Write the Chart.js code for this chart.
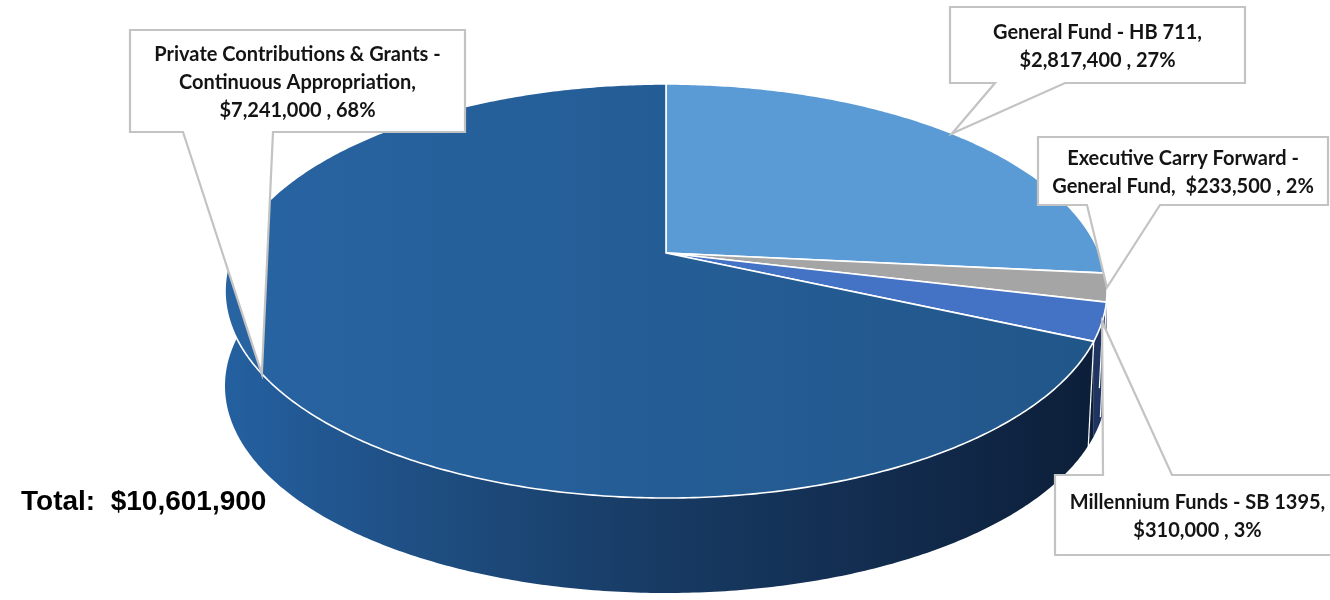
<!DOCTYPE html>
<html lang="en">
<head>
<meta charset="UTF-8">
<title>Funding Sources</title>
<script src="https://cdn.jsdelivr.net/npm/chart.js"></script>
<style>
  html, body { margin: 0; padding: 0; background: #fff; }
  #wrap { width: 1330px; height: 600px; }
</style>
</head>
<body>
<div id="wrap"><canvas id="fundChart" width="1330" height="600"></canvas></div>
<script>
// data, clockwise from 12 o'clock
const categories = [
  'General Fund - HB 711',
  'Executive Carry Forward - General Fund',
  'Millennium Funds - SB 1395',
  'Private Contributions & Grants - Continuous Appropriation'
];
const amounts = [2817400, 233500, 310000, 7241000];
// how each category name is broken over the callout lines
const nameLines = [
  ['General Fund - HB 711,'],
  ['Executive Carry Forward -', 'General Fund, '],
  ['Millennium Funds - SB 1395,'],
  ['Private Contributions & Grants -', 'Continuous Appropriation,']
];
const valueOnOwnLine = [true, false, true, true];
const totalCaption = 'Total:  ';

// styling
const topColors = ['#5B9BD5', '#A5A5A5', '#4472C4', null];
const sideColors = ['#3A6C9C', '#767676', '#1F3461', null];
const pie3d = { cx: 666, cy: 291, rx: 441, ry: 207, depth: 95, tilt: -0.1836 };
const callouts = [
  { box: [950, 7, 1245, 83], side: 'bottom', base: [995, 1065] },
  { box: [1038, 137, 1328, 205], side: 'bottom', base: [1087, 1160] },
  { box: [1055, 475, 1340, 555], side: 'top', base: [1103, 1172] },
  { box: [130, 30, 465, 132], side: 'bottom', base: [183, 273] }
];

const total = amounts.reduce((a, b) => a + b, 0);
const money = v => '$' + v.toLocaleString('en-US');

// perspective tilt of the disc (projective map keeping the rim on the ellipse)
const tA = Math.atanh(pie3d.tilt), ch = Math.cosh(tA), sh = Math.sinh(tA);
function proj(a) {
  const c = Math.cos(a), s = Math.sin(a);
  const w = sh * s + ch;
  return { x: pie3d.cx + pie3d.rx * c / w, y: pie3d.cy + pie3d.ry * (ch * s + sh) / w };
}
function rimPoints(a0, a1) {
  const n = Math.max(4, Math.ceil((a1 - a0) / 0.01));
  const pts = [];
  for (let k = 0; k <= n; k++) pts.push(proj(a0 + (a1 - a0) * k / n));
  return pts;
}

function labelLines(i) {
  const tail = money(amounts[i]) + ' , ' + Math.round(amounts[i] / total * 100) + '%';
  const lines = nameLines[i].slice();
  if (valueOnOwnLine[i]) lines.push(tail);
  else lines[lines.length - 1] += ' ' + tail;
  return lines;
}

const pie3dPlugin = {
  id: 'pie3d',
  afterDatasetsDraw(chart) {
    const ctx = chart.ctx;
    const arcs = chart.getDatasetMeta(0).data;
    const d = pie3d.depth;
    const hub = { x: pie3d.cx, y: pie3d.cy + pie3d.ry * pie3d.tilt };

    ctx.save();
    // side walls
    const sideGrad = ctx.createLinearGradient(pie3d.cx - pie3d.rx, 0, pie3d.cx + pie3d.rx, 0);
    sideGrad.addColorStop(0, '#2460A0');
    sideGrad.addColorStop(0.2, '#1F5085');
    sideGrad.addColorStop(0.5, '#173A62');
    sideGrad.addColorStop(0.8, '#11294A');
    sideGrad.addColorStop(1, '#0C1E38');
    arcs.forEach((arc, i) => {
      const pts = rimPoints(arc.startAngle, arc.endAngle);
      ctx.beginPath();
      pts.forEach((p, k) => k ? ctx.lineTo(p.x, p.y) : ctx.moveTo(p.x, p.y));
      for (let k = pts.length - 1; k >= 0; k--) ctx.lineTo(pts[k].x, pts[k].y + d);
      ctx.closePath();
      ctx.fillStyle = sideColors[i] || sideGrad;
      ctx.fill();
    });
    // slice edges on the wall
    ctx.strokeStyle = '#ffffff';
    ctx.lineWidth = 1.2;
    arcs.forEach(arc => {
      if (Math.sin(arc.startAngle) > 0) {
        const p = proj(arc.startAngle);
        ctx.beginPath();
        ctx.moveTo(p.x, p.y);
        ctx.lineTo(p.x - 6, p.y + d + 20);
        ctx.stroke();
      }
    });

    // top faces
    const topGrad = ctx.createLinearGradient(pie3d.cx - pie3d.rx, 0, pie3d.cx + pie3d.rx, 0);
    topGrad.addColorStop(0, '#2864A2');
    topGrad.addColorStop(1, '#215689');
    arcs.forEach((arc, i) => {
      const pts = rimPoints(arc.startAngle, arc.endAngle);
      ctx.beginPath();
      ctx.moveTo(hub.x, hub.y);
      pts.forEach(p => ctx.lineTo(p.x, p.y));
      ctx.closePath();
      ctx.fillStyle = topColors[i] || topGrad;
      ctx.fill();
      ctx.strokeStyle = '#ffffff';
      ctx.lineWidth = 1.6;
      ctx.stroke();
    });

    // callouts
    arcs.forEach((arc, i) => {
      const c = callouts[i];
      const [x0, y0, x1, y1] = c.box;
      const tip = proj((arc.startAngle + arc.endAngle) / 2);
      ctx.beginPath();
      if (c.side === 'bottom') {
        ctx.moveTo(x0, y0); ctx.lineTo(x1, y0); ctx.lineTo(x1, y1);
        ctx.lineTo(c.base[1], y1); ctx.lineTo(tip.x, tip.y); ctx.lineTo(c.base[0], y1);
        ctx.lineTo(x0, y1);
      } else {
        ctx.moveTo(x0, y0); ctx.lineTo(c.base[0], y0); ctx.lineTo(tip.x, tip.y);
        ctx.lineTo(c.base[1], y0); ctx.lineTo(x1, y0); ctx.lineTo(x1, y1);
        ctx.lineTo(x0, y1);
      }
      ctx.closePath();
      ctx.fillStyle = '#ffffff';
      ctx.fill();
      ctx.strokeStyle = '#C3C3C3';
      ctx.lineWidth = 2.2;
      ctx.stroke();

      const lines = labelLines(i);
      const lh = 28;
      const midX = (x0 + x1) / 2;
      const midY = (y0 + y1) / 2 + 2;
      ctx.fillStyle = '#141414';
      ctx.font = 'bold 20px Lato';
      ctx.textAlign = 'center';
      ctx.textBaseline = 'middle';
      lines.forEach((t, k) => {
        ctx.fillText(t, midX, midY + (k - (lines.length - 1) / 2) * lh);
      });
    });

    // total
    ctx.fillStyle = '#000000';
    ctx.font = 'bold 28px "Liberation Sans", Arial';
    ctx.textAlign = 'left';
    ctx.textBaseline = 'middle';
    ctx.fillText(totalCaption + money(total), 21, 502);
    ctx.restore();
  }
};

new Chart(document.getElementById('fundChart'), {
  type: 'pie',
  data: {
    labels: categories,
    datasets: [{
      data: amounts,
      backgroundColor: 'rgba(0,0,0,0)',
      borderWidth: 0
    }]
  },
  options: {
    responsive: false,
    animation: false,
    events: [],
    plugins: {
      legend: { display: false },
      tooltip: { enabled: false }
    }
  },
  plugins: [pie3dPlugin]
});
</script>
</body>
</html>
